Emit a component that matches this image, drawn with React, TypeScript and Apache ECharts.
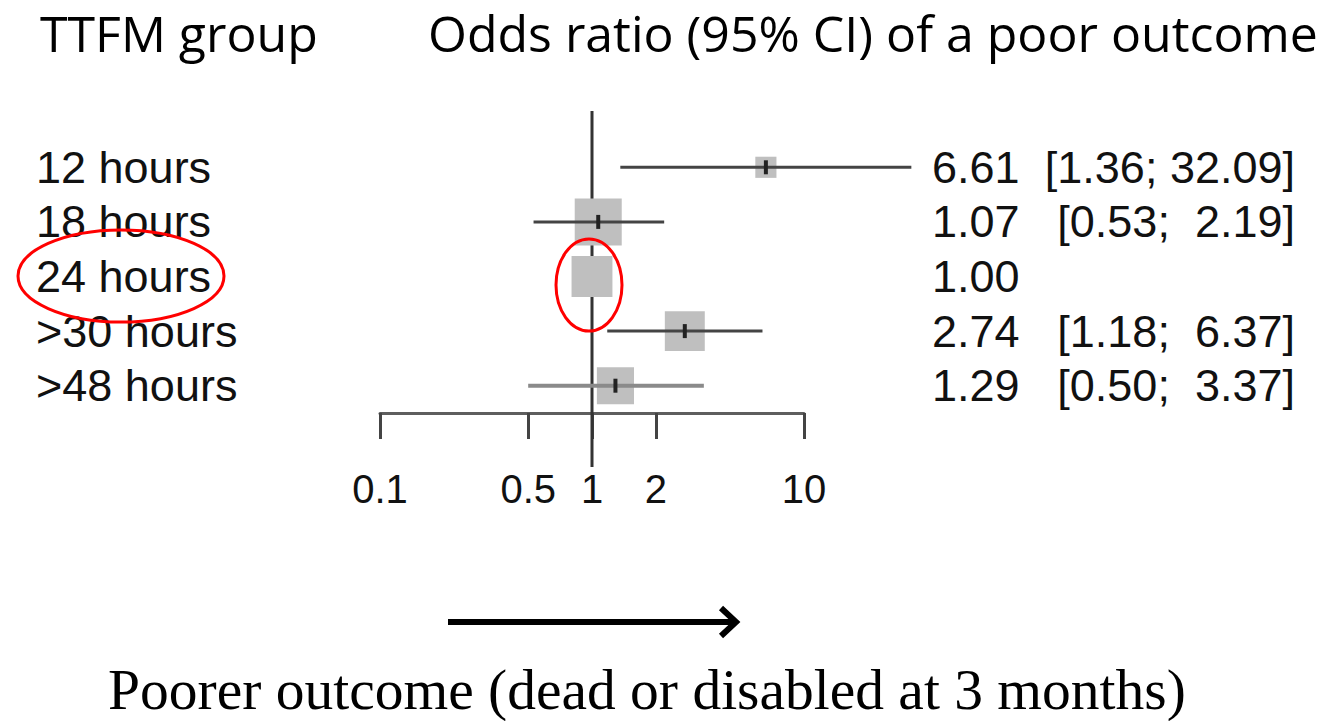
import React, { useEffect, useRef } from "react";
import * as echarts from "echarts";

// ---- data ----
const groups = ["12 hours", "18 hours", "24 hours", ">30 hours", ">48 hours"];
const oddsRatio = [6.61, 1.07, 1.0, 2.74, 1.29];
const ciLower: (number | null)[] = [1.36, 0.53, null, 1.18, 0.5];
const ciUpper: (number | null)[] = [32.09, 2.19, null, 6.37, 3.37];
// relative box weight of each group (largest = 1)
const boxWeight = [0.45, 1.0, 0.87, 0.85, 0.79];
const xTicks = [0.1, 0.5, 1, 2, 10];
const refValue = 1;

const estLabel = (i: number) => oddsRatio[i].toFixed(2);
const ciLabel = (i: number) => {
  const lo = ciLower[i];
  const hi = ciUpper[i];
  if (lo == null || hi == null) return "";
  const h = hi.toFixed(2);
  return `[${lo.toFixed(2)}; ${h.length < 5 ? " " : ""}${h}]`;
};

const SANS = "'Liberation Sans', Arial, Helvetica, sans-serif";
const MAX_BOX = 47;

export default function App() {
  const ref = useRef<HTMLDivElement>(null);

  useEffect(() => {
    if (!ref.current) return;
    const chart = echarts.init(ref.current, undefined, { renderer: "svg" });

    const renderItem = (params: any, api: any) => {
      const i = params.dataIndex;
      const c = api.coord([oddsRatio[i], i]);
      const s = MAX_BOX * boxWeight[i];
      const children: any[] = [
        {
          type: "rect",
          shape: { x: c[0] - s / 2, y: c[1] - s / 2, width: s, height: s },
          style: { fill: "#bfbfbf" },
        },
      ];
      const lo = ciLower[i];
      const hi = ciUpper[i];
      if (lo != null && hi != null) {
        const p1 = api.coord([lo, i]);
        const p2 = api.coord([hi, i]);
        children.push({
          type: "line",
          shape: { x1: p1[0], y1: c[1], x2: p2[0], y2: c[1] },
          style: { stroke: i === 4 ? "#8a8a8a" : "#444444", lineWidth: i === 4 ? 4 : 3 },
        });
        children.push({
          type: "rect",
          shape: { x: c[0] - 2, y: c[1] - 7, width: 4, height: 14 },
          style: { fill: "#222222" },
        });
      }
      return { type: "group", children };
    };

    const option: any = {
      animation: false,
      backgroundColor: "#ffffff",
      grid: [
        { left: 380, width: 424, top: 140, height: 273, outerBoundsMode: "none" },
        { left: 380, width: 424, top: 111, height: 356, outerBoundsMode: "none" },
      ],
      xAxis: [
        {
          gridIndex: 0,
          type: "log",
          logBase: 10,
          min: 0.1,
          max: 10,
          axisLine: { show: true, lineStyle: { color: "#5e5e5e", width: 3 } },
          axisTick: {
            show: true,
            customValues: xTicks,
            length: 26,
            lineStyle: { color: "#444444", width: 3 },
          },
          axisLabel: {
            show: true,
            customValues: xTicks,
            formatter: (v: number) => String(v),
            fontSize: 40,
            color: "#111111",
            fontFamily: SANS,
            margin: 56,
          },
          splitLine: { show: false },
          minorTick: { show: false },
        },
        { gridIndex: 1, type: "log", logBase: 10, min: 0.1, max: 10, show: false },
      ],
      yAxis: [
        {
          gridIndex: 0,
          type: "category",
          data: groups,
          inverse: true,
          axisLine: { show: false },
          axisTick: { show: false },
          splitLine: { show: false },
          axisLabel: {
            interval: 0,
            hideOverlap: false,
            align: "left",
            margin: 344,
            fontSize: 45,
            color: "#111111",
            fontFamily: SANS,
          },
        },
        {
          gridIndex: 0,
          type: "category",
          position: "right",
          data: groups,
          inverse: true,
          axisLine: { show: false },
          axisTick: { show: false },
          splitLine: { show: false },
          axisLabel: {
            interval: 0,
            hideOverlap: false,
            align: "left",
            margin: 128,
            formatter: (_v: string, i: number) => `{e|${estLabel(i)}}{c|${ciLabel(i)}}`,
            rich: {
              e: { width: 125, align: "left", fontSize: 45, color: "#111111", fontFamily: SANS },
              c: { width: 238, align: "right", fontSize: 45, color: "#111111", fontFamily: SANS },
            },
          },
        },
        { gridIndex: 1, type: "value", min: 0, max: 1, show: false },
      ],
      series: [
        {
          type: "line",
          xAxisIndex: 1,
          yAxisIndex: 2,
          data: [
            [refValue, 0],
            [refValue, 1],
          ],
          symbol: "none",
          lineStyle: { color: "#333333", width: 3 },
          z: 1,
          silent: true,
        },
        {
          type: "custom",
          xAxisIndex: 0,
          yAxisIndex: 0,
          clip: false,
          data: groups.map((_g, i) => [oddsRatio[i], i]),
          encode: { x: 0, y: 1 },
          renderItem,
          z: 3,
          silent: true,
        },
      ],
      graphic: [
        {
          type: "text",
          x: 40,
          y: 6,
          style: {
            text: "TTFM group",
            fontSize: 50,
            lineHeight: 54,
            fontFamily: "'Open Sans', sans-serif",
            fill: "#000",
            align: "left",
            verticalAlign: "top",
          },
        },
        {
          type: "text",
          x: 428,
          y: 6,
          style: {
            text: "Odds ratio (95% CI) of a poor outcome",
            fontSize: 50,
            lineHeight: 54,
            fontFamily: "'Open Sans', sans-serif",
            fill: "#000",
            align: "left",
            verticalAlign: "top",
          },
        },
        {
          type: "ellipse",
          shape: { cx: 121, cy: 276, rx: 103, ry: 46 },
          style: { fill: "none", stroke: "#ff0000", lineWidth: 3 },
          z: 10,
        },
        {
          type: "ellipse",
          shape: { cx: 589, cy: 285, rx: 33, ry: 46 },
          style: { fill: "none", stroke: "#ff0000", lineWidth: 3 },
          z: 10,
        },
        {
          type: "line",
          shape: { x1: 448, y1: 622, x2: 734, y2: 622 },
          style: { stroke: "#000", lineWidth: 6 },
        },
        {
          type: "polyline",
          shape: { points: [[721, 608], [736, 622], [721, 636]] },
          style: { stroke: "#000", lineWidth: 6, fill: null },
        },
        {
          type: "text",
          x: 108,
          y: 689,
          style: {
            text: "Poorer outcome (dead or disabled at 3 months)",
            fontSize: 57.5,
            fontFamily: "'Liberation Serif', 'Times New Roman', serif",
            fill: "#000",
            align: "left",
            verticalAlign: "middle",
          },
        },
      ],
    };

    chart.setOption(option);
    return () => chart.dispose();
  }, []);

  return (
    <div
      ref={ref}
      style={{ position: "fixed", left: 0, top: 0, width: 1328, height: 721, background: "#fff" }}
    />
  );
}
